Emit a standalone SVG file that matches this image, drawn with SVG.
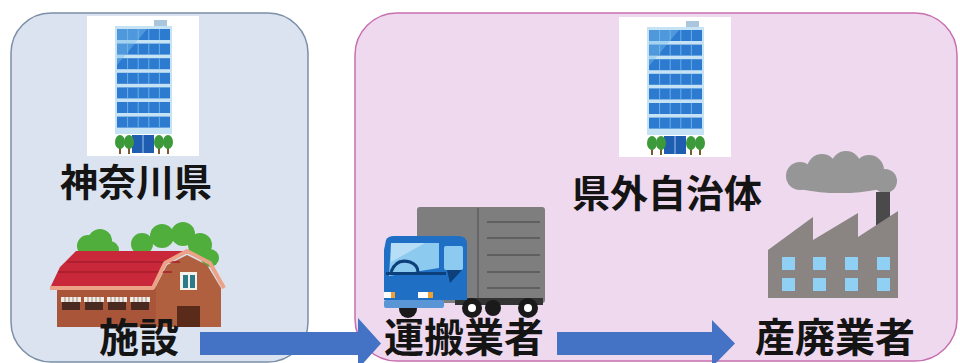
<svg xmlns="http://www.w3.org/2000/svg" xmlns:xlink="http://www.w3.org/1999/xlink" width="960" height="363" viewBox="0 0 960 363">
  <style>
    .lbl { font-family: "Noto Sans CJK JP", "Noto Sans", sans-serif; font-weight: 700; fill: #141414; }
    .win { fill: #2c7bd0; }
    .tree { fill: #3d9a3a; }
    .trunk { fill: #7a5a30; }
    .arrow { fill: #4472c4; }
  </style>
  <defs>
    <!-- office tower icon, 112 x 140 -->
    <g id="tower">
      <rect x="0" y="0" width="112" height="140" fill="#ffffff"/>
      <rect x="67" y="4" width="13" height="6" fill="#a9c6dc"/>
      <rect x="28" y="10" width="57" height="108" fill="#c6e3f6"/>
      <g id="floor">
        <rect class="win" x="30" y="13" width="53" height="11"/>
        <path d="M40.6 13v11M51.2 13v11M61.8 13v11M72.4 13v11" stroke="#6aaee6" stroke-width="1"/>
      </g>
      <use xlink:href="#floor" y="14.6"/>
      <use xlink:href="#floor" y="29.2"/>
      <use xlink:href="#floor" y="43.8"/>
      <use xlink:href="#floor" y="58.4"/>
      <use xlink:href="#floor" y="73"/>
      <use xlink:href="#floor" y="87.6"/>
      <path d="M30 13h30l-30 36z" fill="#7bbcec" opacity="0.45"/>
      <rect x="45" y="119" width="22" height="18" fill="#1f5db0"/>
      <path d="M56 119v18" stroke="#9cc6ee" stroke-width="1"/>
      <g id="pair">
        <rect class="trunk" x="32" y="130" width="2" height="8"/>
        <ellipse class="tree" cx="33" cy="126" rx="5" ry="7"/>
        <rect class="trunk" x="41" y="130" width="2" height="8"/>
        <ellipse class="tree" cx="42" cy="126" rx="5" ry="7"/>
      </g>
      <use xlink:href="#pair" x="39"/>
    </g>
    <!-- small barn window with striped awning -->
    <g id="barnwin">
      <rect x="0" y="4" width="18" height="9" fill="#4a2a20"/>
      <rect x="-1" y="0" width="20" height="5" fill="#f2ece4"/>
      <path d="M3 0v5M7 0v5M11 0v5M15 0v5" stroke="#9a8a80" stroke-width="1"/>
    </g>
  </defs>

  <!-- region panels -->
  <rect x="11" y="13" width="297" height="349" rx="40" fill="#dbe3f0" stroke="#7b90a8" stroke-width="1.5"/>
  <rect x="355" y="13" width="602" height="348" rx="42" fill="#eed9ee" stroke="#c86fb0" stroke-width="1.5"/>

  <!-- prefecture -->
  <g id="kanagawa">
    <use xlink:href="#tower" x="87" y="16"/>
    <text class="lbl" x="60" y="196" font-size="38">神奈川県</text>
  </g>

  <!-- facility (barn) -->
  <g id="shisetsu">
    <g fill="#4fae3c">
      <circle cx="88" cy="246" r="11"/>
      <circle cx="100" cy="241" r="12"/>
      <circle cx="110" cy="250" r="9"/>
      <circle cx="142" cy="244" r="11"/>
      <circle cx="162" cy="236" r="12"/>
      <circle cx="183" cy="234" r="12"/>
      <circle cx="200" cy="245" r="12"/>
      <circle cx="210" cy="258" r="9"/>
    </g>
    <!-- gable wall -->
    <path d="M155 288L167 265L187 255L207 265L221 288V327H155Z" fill="#b0603f"/>
    <!-- long wall -->
    <rect x="57" y="287" width="99" height="40" fill="#a8553a"/>
    <!-- roof -->
    <path d="M50 288L60 267L76 251H187L165 263L153 288Z" fill="#c9283a"/>
    <path d="M58 272H172M67 262H180" stroke="#a81c2e" stroke-width="1.5"/>
    <path d="M50 288H153L165 263L187 251L210 263L224 288" fill="none" stroke="#eba286" stroke-width="4" stroke-linejoin="round"/>
    <rect x="180" y="272" width="17" height="18" fill="#f4f0ea"/>
    <rect x="183" y="275" width="5" height="13" fill="#2b7a8a"/>
    <rect x="190" y="275" width="5" height="13" fill="#2b7a8a"/>
    <use xlink:href="#barnwin" x="62" y="297"/>
    <use xlink:href="#barnwin" x="85" y="297"/>
    <use xlink:href="#barnwin" x="108" y="297"/>
    <use xlink:href="#barnwin" x="131" y="297"/>
    <rect x="177" y="306" width="23" height="21" fill="#5a2a1a"/>
    <text class="lbl" x="99" y="351.5" font-size="40">施設</text>
  </g>

  <!-- other municipality -->
  <g id="kengai">
    <use xlink:href="#tower" x="619" y="17"/>
    <text class="lbl" x="572" y="207" font-size="38">県外自治体</text>
  </g>

  <!-- transporter (truck) -->
  <g id="unpan">
    <rect x="417" y="207" width="128" height="96" rx="3" fill="#7e7e7e"/>
    <path d="M478 208V302" stroke="#5e5e5e" stroke-width="1.5"/>
    <path d="M487 222H540M487 238H540M487 255H540M487 272H540M487 288H540" stroke="#555" stroke-width="1.5"/>
    <rect x="455" y="298" width="88" height="7" fill="#333"/>
    <circle cx="408" cy="309" r="9" fill="#1a1a1a"/>
    <circle cx="472" cy="308" r="10" fill="#1a1a1a"/>
    <circle cx="472" cy="308" r="4" fill="#fff"/>
    <circle cx="493" cy="308" r="8" fill="#1a1a1a"/>
    <circle cx="528" cy="308" r="10" fill="#1a1a1a"/>
    <circle cx="528" cy="308" r="4" fill="#fff"/>
    <path d="M386 240Q388 236 394 236H458Q467 236 467 244V300H384V250Z" fill="#1f70c4"/>
    <path d="M391 243H439V268L389 276Z" fill="#8ccaf0"/>
    <path d="M391 243H425L391 262Z" fill="#b6def6"/>
    <rect x="444" y="246" width="19" height="24" rx="2" fill="#8ccaf0"/>
    <path d="M447 270H462L450 283Z" fill="#0d3f7a"/>
    <path d="M391 272Q396 258 410 262Q418 265 418 272" fill="none" stroke="#0d3f7a" stroke-width="3"/>
    <rect x="386" y="272" width="60" height="3" fill="#0d3f7a"/>
    <rect x="384" y="292" width="10" height="6" fill="#fff"/>
    <rect x="391" y="292" width="4" height="6" fill="#f0a030"/>
    <rect x="418" y="292" width="14" height="6" fill="#fff"/>
    <rect x="428" y="292" width="5" height="6" fill="#f0a030"/>
    <rect x="384" y="300" width="60" height="8" rx="2" fill="#5a96d6"/>
    <text class="lbl" x="384" y="351.5" font-size="40">運搬業者</text>
  </g>

  <!-- industrial waste processor (factory) -->
  <g id="sanpai">
    <g fill="#969696">
      <ellipse cx="840" cy="182" rx="52" ry="11"/>
      <circle cx="800" cy="176" r="14"/>
      <circle cx="822" cy="169" r="15"/>
      <circle cx="846" cy="166" r="15"/>
      <circle cx="869" cy="170" r="15"/>
      <circle cx="885" cy="181" r="12"/>
    </g>
    <rect x="876" y="192" width="14" height="40" fill="#4a4a4a"/>
    <path d="M768 298V250L813 217V240L858 213V237L898 211V298Z" fill="#8a8583"/>
    <g fill="#90d0f4">
      <rect x="782" y="257" width="13" height="13"/>
      <rect x="813" y="257" width="13" height="13"/>
      <rect x="845" y="257" width="13" height="13"/>
      <rect x="877" y="257" width="13" height="13"/>
      <rect x="782" y="278" width="13" height="13"/>
      <rect x="813" y="278" width="13" height="13"/>
      <rect x="845" y="278" width="13" height="13"/>
      <rect x="877" y="278" width="13" height="13"/>
    </g>
    <text class="lbl" x="755" y="351.5" font-size="40">産廃業者</text>
  </g>

  <!-- flow arrows -->
  <g id="connectors">
    <path class="arrow" d="M200 332H358V318L381 343.5L358 369V355H200Z"/>
    <path class="arrow" d="M557 332H712V320L735 343.5L712 367V355H557Z"/>
  </g>
</svg>
